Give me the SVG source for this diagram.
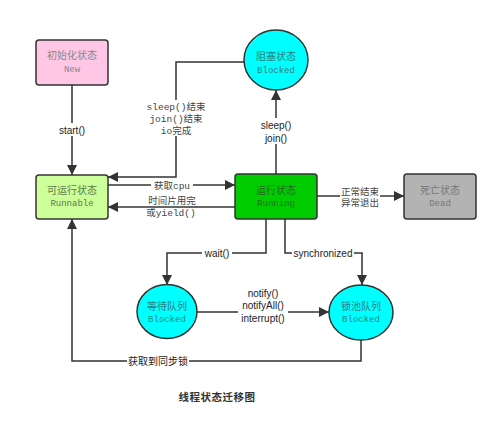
<svg xmlns="http://www.w3.org/2000/svg" width="500" height="436" viewBox="0 0 500 436">
<defs>
<marker id="arr" viewBox="0 0 10 10" refX="10" refY="5" markerWidth="10" markerHeight="10" markerUnits="userSpaceOnUse" orient="auto">
<path d="M0,0 L10,5 L0,10 Z" fill="#333"/>
</marker>
<style>
.box{stroke:#333;stroke-width:1.5}
.line{fill:none;stroke:#333;stroke-width:1.5}
.cn{font-family:"Noto Sans CJK SC","Liberation Sans",sans-serif;font-size:10px;text-anchor:middle}
.mo{font-family:"Liberation Mono","Noto Sans CJK SC",monospace;font-size:9px;text-anchor:middle}
.lbl{font-family:"Liberation Sans","Noto Sans CJK SC",sans-serif;font-size:10px;text-anchor:middle;fill:#222}
.mlbl{font-family:"Liberation Mono","Noto Sans CJK SC",monospace;font-size:9.5px;text-anchor:middle;fill:#444}
.bg{fill:#fff}
</style>
</defs>
<rect width="500" height="436" fill="#fff"/>

<g id="connectors">
<line class="line" x1="72" y1="85" x2="72" y2="175" marker-end="url(#arr)"/>
<line class="line" x1="108" y1="185" x2="235" y2="185" marker-end="url(#arr)"/>
<line class="line" x1="235" y1="207" x2="108" y2="207" marker-end="url(#arr)"/>
<polyline class="line" points="244,62 176,62 176,177 108,177" marker-end="url(#arr)"/>
<line class="line" x1="276" y1="174" x2="276" y2="90" marker-end="url(#arr)"/>
<line class="line" x1="317" y1="196" x2="404" y2="196" marker-end="url(#arr)"/>
<polyline class="line" points="266,219 266,253 167,253 167,285" marker-end="url(#arr)"/>
<polyline class="line" points="285,219 285,253 362,253 362,285" marker-end="url(#arr)"/>
<line class="line" x1="197" y1="312" x2="329" y2="312" marker-end="url(#arr)"/>
<polyline class="line" points="361,340 361,361 72,361 72,219" marker-end="url(#arr)"/>

<rect class="bg" x="56" y="123" width="32" height="13"/>
<text class="lbl" x="72" y="133.5">start()</text>

<rect class="bg" x="146" y="100" width="60" height="36"/>
<text class="mlbl" x="176" y="110">sleep()结束</text>
<text class="mlbl" x="176" y="122">join()结束</text>
<text class="mlbl" x="176" y="134">io完成</text>

<rect class="bg" x="258" y="118" width="36" height="26"/>
<text class="lbl" x="276" y="128.5">sleep()</text>
<text class="lbl" x="276" y="141.5">join()</text>

<rect class="bg" x="151" y="180" width="42" height="11"/>
<text class="mlbl" x="172" y="188.5">获取cpu</text>
<text class="mlbl" x="172" y="204">时间片用完</text>
<text class="mlbl" x="171" y="216">或yield()</text>

<rect class="bg" x="340" y="186" width="40" height="22"/>
<text class="mlbl" x="360" y="194.5">正常结束</text>
<text class="mlbl" x="360" y="206">异常退出</text>

<rect class="bg" x="202" y="247" width="30" height="12"/>
<text class="lbl" x="217" y="256.5">wait()</text>
<rect class="bg" x="292" y="247" width="62" height="12"/>
<text class="lbl" x="323" y="256.5">synchronized</text>

<rect class="bg" x="238" y="287" width="50" height="35"/>
<text class="lbl" x="263" y="296.5">notify()</text>
<text class="lbl" x="263" y="309">notifyAll()</text>
<text class="lbl" x="263" y="321.5">interrupt()</text>

<rect class="bg" x="127" y="355" width="62" height="12"/>
<text class="lbl" x="158" y="364.5" fill="#444">获取到同步锁</text>
</g>

<g id="new">
<rect class="box" x="36" y="40" width="72" height="45" rx="3" fill="#ffc6e6"/>
<text class="cn" x="72" y="58.5" fill="#888">初始化状态</text>
<text class="mo" x="72" y="72" fill="#888">New</text>
</g>

<g id="runnable">
<rect class="box" x="36" y="175" width="72" height="44" rx="3" fill="#ccff99"/>
<text class="cn" x="72" y="194" fill="#5a7a4a">可运行状态</text>
<text class="mo" x="72" y="206" fill="#5a7a4a">Runnable</text>
</g>

<g id="running">
<rect class="box" x="235" y="174" width="82" height="45" rx="3" fill="#00cc00"/>
<text class="cn" x="276" y="194" fill="#1e6b1e">运行状态</text>
<text class="mo" x="276" y="206" fill="#1e6b1e">Running</text>
</g>

<g id="dead">
<rect class="box" x="404" y="174" width="72" height="45" rx="3" fill="#b3b3b3"/>
<text class="cn" x="440" y="194" fill="#777">死亡状态</text>
<text class="mo" x="440" y="206" fill="#777">Dead</text>
</g>

<g id="blocked">
<ellipse class="box" cx="276" cy="60" rx="32" ry="30" fill="#00ffff"/>
<text class="cn" x="276" y="60" fill="#2a8080">阻塞状态</text>
<text class="mo" x="276" y="72.5" fill="#2a8080">Blocked</text>
</g>

<g id="waiting">
<ellipse class="box" cx="167" cy="311.5" rx="30" ry="27" fill="#00ffff"/>
<text class="cn" x="167" y="310" fill="#2a8080">等待队列</text>
<text class="mo" x="167" y="321.5" fill="#2a8080">Blocked</text>
</g>

<g id="lockpool">
<ellipse class="box" cx="361" cy="312.5" rx="32" ry="27.5" fill="#00ffff"/>
<text class="cn" x="361" y="310" fill="#2a8080">锁池队列</text>
<text class="mo" x="361" y="321.5" fill="#2a8080">Blocked</text>
</g>

<text x="217" y="401" font-family="'Noto Sans CJK SC','Liberation Sans',sans-serif" font-size="10.5" font-weight="bold" letter-spacing="0.5" text-anchor="middle" fill="#333">线程状态迁移图</text>
</svg>
